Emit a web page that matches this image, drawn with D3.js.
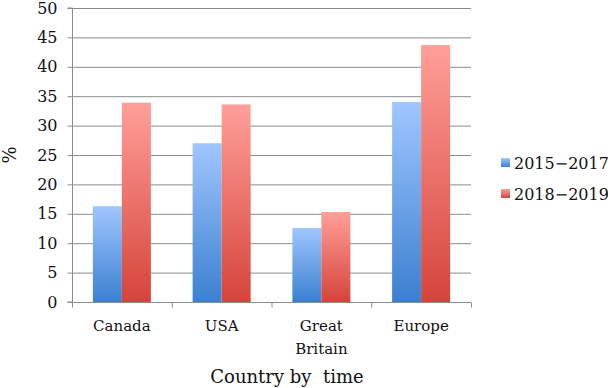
<!DOCTYPE html>
<html><head><meta charset="utf-8">
<script src="https://cdn.jsdelivr.net/npm/d3@7"></script>
<style>body{margin:0;background:#fff}svg{display:block}svg text{font-family:"DejaVu Serif",serif !important;fill:#111}</style>
</head><body><svg id="c" width="608" height="388"></svg>
<script>
const categories = ["Canada", "USA", "Great Britain", "Europe"];
const seriesNames = ["2015\u22122017", "2018\u22122019"];
const values2015 = [16.3, 27.0, 12.6, 34.0];
const values2018 = [33.9, 33.6, 15.3, 43.7];
const yTicks = [0, 5, 10, 15, 20, 25, 30, 35, 40, 45, 50];

const svg = d3.select("#c");
const m = {l: 72, r: 137, t: 8, b: 86};
const W = 608, H = 388;
const x = d3.scaleBand().domain(categories).range([m.l, W - m.r]);
const x1 = d3.scaleBand().domain([0, 1]).range([0, x.bandwidth()]).paddingOuter(0.72).paddingInner(0);
const y = d3.scaleLinear().domain([0, 50]).range([H - m.b, m.t]);

const defs = svg.append("defs");
const grads = [["#a0c6ff", "#3b80d0"], ["#ff9f99", "#d5443a"]];
grads.forEach((g, i) => {
  const lg = defs.append("linearGradient").attr("id", "g" + i).attr("x1", 0).attr("y1", 0).attr("x2", 0).attr("y2", 1);
  lg.append("stop").attr("offset", "0%").attr("stop-color", g[0]);
  lg.append("stop").attr("offset", "100%").attr("stop-color", g[1]);
});

// gridlines
svg.append("g").selectAll("line").data(yTicks.filter(d => d > 0)).join("line")
  .attr("x1", m.l).attr("x2", W - m.r).attr("y1", d => y(d) + 0.5).attr("y2", d => y(d) + 0.5)
  .attr("stroke", "#8c8c8c").attr("stroke-width", 1);

// y axis
const ya = svg.append("g").attr("transform", `translate(${m.l + 0.5},0)`)
  .call(d3.axisLeft(y).tickValues(yTicks).tickSize(5).tickPadding(10));
ya.attr("font-family", null).attr("font-size", null);
ya.select(".domain").attr("stroke", "#8c8c8c").attr("d", `M-5,${y(50)}H0V${y(0)}H-5`);
ya.selectAll(".tick line").attr("stroke", "#8c8c8c");
ya.selectAll(".tick text").style("font-size", "16px").attr("fill", "#111");

// x axis
const xa = svg.append("g").attr("transform", `translate(0,${y(0) + 0.5})`);
xa.append("line").attr("x1", m.l).attr("x2", W - m.r).attr("stroke", "#8c8c8c");
const bounds = categories.map(c => x(c)).concat([x(categories[3]) + x.bandwidth()]);
xa.selectAll(".tk").data(bounds).join("line").attr("class", "tk")
  .attr("x1", d => d + 0.5).attr("x2", d => d + 0.5).attr("y1", 0).attr("y2", 5).attr("stroke", "#8c8c8c");

const series = [values2015, values2018];
series.forEach((vals, si) => {
  svg.append("g").selectAll("rect").data(vals).join("rect")
    .attr("x", (d, i) => x(categories[i]) + x1(si))
    .attr("width", x1.bandwidth())
    .attr("y", d => y(d))
    .attr("height", d => y(0) - y(d))
    .attr("fill", `url(#g${si})`);
});

// category labels
const lab = svg.append("g");
categories.forEach(c => {
  const words = c === "Great Britain" ? ["Great", "Britain"] : [c];
  words.forEach((w, k) => {
    lab.append("text").attr("x", x(c) + x.bandwidth() / 2).attr("y", 331 + k * 23)
      .attr("text-anchor", "middle").style("font-size", "15px").text(w);
  });
});

svg.append("text").attr("x", 287).attr("y", 383).attr("text-anchor", "middle")
  .style("font-size", "18px").text("Country by\u00a0 time");
svg.append("text").attr("transform", `translate(16,${(y(0) + y(50)) / 2}) rotate(-90)`)
  .attr("text-anchor", "middle").style("font-size", "18px").text("%");

// legend
const lg = svg.append("g");
seriesNames.forEach((s, i) => {
  const yy = 163 + i * 31;
  lg.append("rect").attr("x", 501).attr("y", yy - 5).attr("width", 9).attr("height", 9).attr("fill", `url(#g${i})`);
  lg.append("text").attr("x", 514).attr("y", yy + 6).style("font-size", "16px").text(s);
});
</script></body></html>
